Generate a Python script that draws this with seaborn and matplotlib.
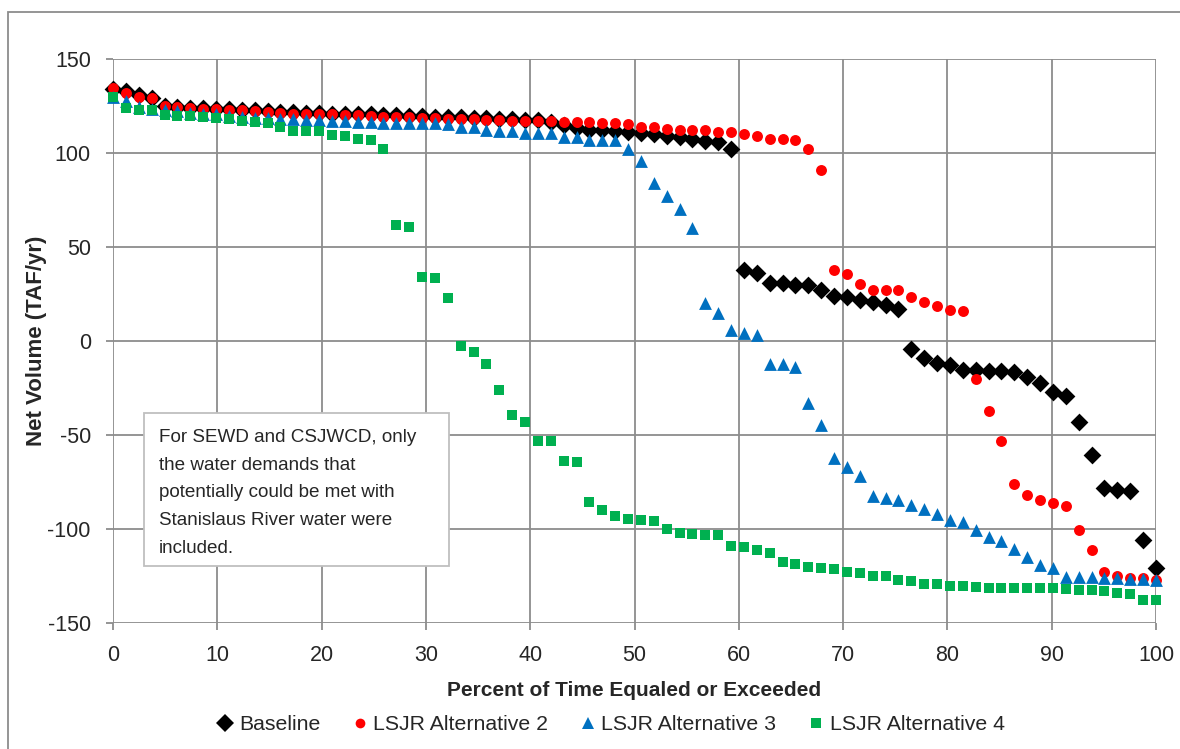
import matplotlib
matplotlib.use('Agg')
import matplotlib.pyplot as plt
import numpy as np
import pandas as pd
import seaborn as sns
from matplotlib.lines import Line2D

# exceedance values, 82 years each
baseline = [134, 133, 131, 129, 125, 124.5, 124, 124, 123.5, 123.5,
            123, 123, 122.5, 122, 122, 121.5, 121.5, 121, 121, 120.5,
            120.5, 120, 120, 119.5, 119.5, 119, 119, 119, 118.5, 118.5,
            118, 118, 117.5, 117.5, 116.5, 115, 113.5, 112.5, 112, 111.5,
            111, 110.5, 110, 109, 108.5, 107.5, 106.5, 106, 102,
            38, 36, 31, 31, 30, 30, 27, 24, 23.5, 22, 21, 19, 17,
            -4, -9, -11.5, -12.5, -15.5, -15.5, -16, -16, -16.5, -19, -22.5,
            -27, -29, -43, -60.5, -78, -79.5, -80, -106, -120.5]
alt2 = [134.5, 132, 130, 129, 125, 124.5, 124, 123.5, 123.5, 123,
        123, 122.5, 122, 121.5, 121, 121, 121, 120.5, 120, 120,
        119.5, 119, 119, 119, 118.5, 118.5, 118, 118, 118, 117.5,
        117.5, 117, 117, 117, 117, 116.5, 116.5, 116.5, 116, 116,
        115.5, 114, 114, 113, 112, 112, 112, 111, 111, 110,
        109, 107.5, 107.5, 107, 102, 91,
        38, 35.5, 30.5, 27, 27, 27, 23.5, 21, 18.5, 16.5, 16,
        -20, -37, -53, -76, -82, -84.5, -86, -87.5, -100.5, -111,
        -123, -125, -126, -126, -127]
alt3 = [130, 127.5, 124.5, 123.5, 123, 122.5, 121.5, 121, 120.5, 119.5,
        119, 118.5, 118.5, 118, 118, 117.5, 117.5, 117, 117, 116.5,
        116.5, 116, 116, 116, 116, 116, 115.5, 114, 114, 112.5,
        111.5, 111.5, 110.5, 110.5, 110.5, 108.5, 108.5, 107, 107, 107,
        102, 95.5, 84, 77, 70, 60,
        20, 15, 6, 4, 3, -12, -12, -14, -33, -44.5,
        -62, -67, -72, -82.5, -83.5, -84.5, -87, -89.5, -92, -95,
        -96.5, -100.5, -104, -106.5, -110.5, -115, -119, -121, -125.5, -125.5,
        -125.5, -126, -126, -126.5, -126.5, -127]
alt4 = [130, 124, 123, 123, 120, 119.5, 119.5, 119, 118.5, 118,
        117, 116.5, 116, 114, 111.5, 111.5, 111.5, 109.5, 109, 107.5,
        107, 102, 61.5, 60.5, 34, 33.5, 23, -2.5, -6, -12,
        -26, -39.5, -43, -53, -53, -64, -64.5, -85.5, -90, -93,
        -94.5, -95, -95.5, -100, -102, -102.5, -103, -103, -109, -109.5,
        -111, -112.5, -117.5, -118.5, -120, -120.5, -121.5, -123, -123.5, -125,
        -125, -127, -127.5, -129, -129, -130.5, -130.5, -131, -131.5, -131.5,
        -131.5, -131.5, -131.5, -131.5, -132, -132.5, -132.5, -133, -134, -134.5,
        -137.5, -138]

series_names = ['Baseline', 'LSJR Alternative 2', 'LSJR Alternative 3', 'LSJR Alternative 4']
series_vals = [baseline, alt2, alt3, alt4]
colors = ['#000000', '#FF0000', '#0070C0', '#00B050']
markers = ['D', 'o', '^', 's']
sizes = [82, 62, 85, 48]

note = ('For SEWD and CSJWCD, only\nthe water demands that\n'
        'potentially could be met with\nStanislaus River water were\nincluded.')

frames = []
for name, vals in zip(series_names, series_vals):
    n = len(vals)
    pct = np.arange(n) * 100.0 / (n - 1)
    frames.append(pd.DataFrame({'pct': pct, 'vol': vals, 'series': name}))
df = pd.concat(frames, ignore_index=True)

sns.set_style('white')
plt.rcParams['font.family'] = ['Liberation Sans', 'DejaVu Sans']
plt.rcParams['axes.unicode_minus'] = False

fig = plt.figure(figsize=(11.8, 7.49), dpi=100)
ax = fig.add_axes([113 / 1180, 1 - 623 / 749, (1156 - 113) / 1180, (623 - 59) / 749])

for name, col, mk, sz in zip(series_names, colors, markers, sizes):
    sub = df[df['series'] == name]
    sns.scatterplot(data=sub, x='pct', y='vol', color=col, marker=mk, s=sz,
                    linewidth=0, ax=ax, legend=False, zorder=3, clip_on=False)

ax.set_xlim(0, 100)
ax.set_ylim(-150, 150)
ax.set_xticks(np.arange(0, 101, 10))
ax.set_yticks(np.arange(-150, 151, 50))
ax.grid(True, color='#8C8C8C', linewidth=1.3)
ax.set_axisbelow(True)
for sp in ax.spines.values():
    sp.set_visible(False)
ax.tick_params(axis='both', which='both', length=5, width=1.3, color='#8C8C8C',
               labelsize=15.5, direction='out', bottom=True, left=True)
ax.tick_params(axis='x', pad=11)
ax.tick_params(axis='y', pad=11)
ax.set_xlabel('Percent of Time Equaled or Exceeded', fontsize=15, fontweight='bold', labelpad=11)
ax.set_ylabel('Net Volume (TAF/yr)', fontsize=16, fontweight='bold', labelpad=0)

# note box
ax.add_patch(plt.Rectangle((2.97, -119.7), 32.2 - 2.97, -38.3 + 119.7, facecolor='white',
                           edgecolor='#BFBFBF', linewidth=1.3, zorder=4))
ax.text(4.4, -46.8, note, fontsize=13.6, va='top', ha='left', linespacing=1.82, zorder=5)

handles = [Line2D([], [], linestyle='none', marker=mk, color=col, markersize=ms, markeredgewidth=0)
           for mk, col, ms in zip(markers, colors, [9, 7, 8.5, 7])]
fig.legend(handles, series_names, loc='center', bbox_to_anchor=(610 / 1180, 1 - 725 / 749), ncol=4,
           frameon=False, fontsize=15.3, handletextpad=0.2, columnspacing=1.4, handlelength=0.9)

# outer chart border
fig.add_artist(plt.Rectangle((8 / 1180, -0.1), 1.2, 1 - 12 / 749 + 0.1, transform=fig.transFigure,
                             fill=False, edgecolor='#8C8C8C', linewidth=1.3))

fig.savefig('out.png', dpi=100)
